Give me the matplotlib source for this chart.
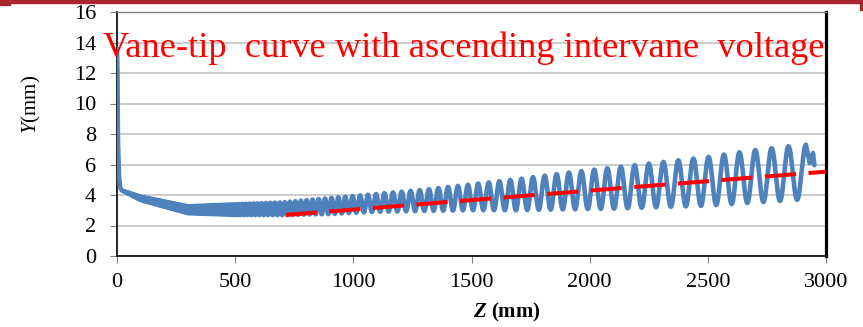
import numpy as np
import matplotlib.pyplot as plt
from matplotlib.patches import Rectangle

plt.rcParams['mathtext.fontset'] = 'custom'
plt.rcParams['mathtext.rm'] = 'Liberation Serif'
plt.rcParams['mathtext.it'] = 'Liberation Serif:italic'
plt.rcParams['mathtext.bf'] = 'Liberation Serif:bold'
plt.rcParams['mathtext.bfit'] = 'Liberation Serif:italic:bold'

# radial matching section at the entrance
z_entry = [0, 2, 4, 8, 13]
y_entry = [13.6, 12.0, 7.6, 5.4, 4.5]

# envelope of the modulated vane tip (peaks / troughs)
z_env = [20, 100, 300, 500, 700, 900, 1100, 1300, 1500, 1700, 1900, 2100, 2300, 2500, 2700, 2900]
upper_env = [4.3, 3.9, 3.27, 3.4, 3.52, 3.8, 4.07, 4.35, 4.7, 5.05, 5.45, 5.8, 6.15, 6.5, 6.95, 7.3]
lower_env = [4.3, 3.66, 2.8, 2.68, 2.68, 2.75, 2.9, 2.95, 3.0, 3.0, 3.05, 3.1, 3.2, 3.3, 3.5, 3.7]

# modulation period (two cells) along z
z_per = [20, 300, 500, 700, 1000, 1100, 1500, 2000, 2350, 2650, 2850, 2950]
per = [8, 10, 14, 21, 31, 35, 43, 54, 63, 66, 72, 76]

z_last_peak = 2915
z_exit = [2931, 2945, 2951]
y_exit = [6.1, 6.75, 5.95]

# red dashed guide line
z_guide = [714, 3000]
y_guide = [2.69, 5.53]

# build vane tip: alternate peak/trough cells, going back from the last peak
ext_z, ext_y = [], []
z = z_last_peak
top = True
while z > z_env[0]:
    ext_z.append(z)
    ext_y.append(np.interp(z, z_env, upper_env if top else lower_env))
    z -= np.interp(z, z_per, per) / 2
    top = not top
ext_z.append(z_env[0])
ext_y.append(upper_env[0])
ext_z, ext_y = ext_z[::-1], ext_y[::-1]

zz, yy = list(z_entry), list(y_entry)
t = np.linspace(0, 1, 13)[:-1]
for i in range(len(ext_z) - 1):
    zz += list(ext_z[i] + (ext_z[i + 1] - ext_z[i]) * t)
    yy += list(ext_y[i] + (ext_y[i + 1] - ext_y[i]) * (1 - np.cos(np.pi * t)) / 2)
zz.append(ext_z[-1])
yy.append(ext_y[-1])
zz += z_exit
yy += y_exit

serif = 'Liberation Serif'
fig = plt.figure(figsize=(8.63, 3.27), dpi=100)
ax = fig.add_axes([117 / 863, 1 - 256 / 327, (826 - 117) / 863, (256 - 12) / 327])

ax.plot(zz, yy, color='#4F81BD', lw=3.3, solid_joinstyle='round', solid_capstyle='round', zorder=3)
ax.plot(z_guide, y_guide, color='red', lw=2.9, dashes=(7.75, 3.1), zorder=4)

ax.set_xlim(0, 3000)
ax.set_ylim(0, 16)
ax.set_xticks(range(0, 3001, 500))
ax.set_yticks(range(0, 17, 2))
ax.grid(axis='y', color='#BFBFBF', lw=1.1)
ax.set_axisbelow(True)
ax.tick_params(axis='both', direction='out', length=5, width=0.8, color='#808080',
               labelsize=16, pad=7)
for lab in ax.get_xticklabels() + ax.get_yticklabels():
    lab.set_fontfamily(serif)
ax.tick_params(axis='y', pad=10)

for s in ['left', 'bottom']:
    ax.spines[s].set_color('black')
    ax.spines[s].set_linewidth(1.2)
ax.spines['top'].set_color('#7F7F7F')
ax.spines['top'].set_linewidth(1.0)
ax.spines['right'].set_color('black')
ax.spines['right'].set_linewidth(2.3)

fig.text(31 / 863, 1 - 104 / 327, r'$\mathit{Y}$(mm)', rotation=90, ha='center', va='center',
         fontsize=15, family=serif)
fig.text(507 / 863, 1 - 312 / 327, r'$\mathbfit{Z}$ (mm)', ha='center', va='center',
         fontsize=15, family=serif, fontweight='bold')

fig.text(103 / 863, 1 - 57 / 327, 'Vane-tip  curve with ascending intervane  voltage',
         color='red', fontsize=26.2, family=serif, va='baseline')

# slide header bar
fig.patches.append(Rectangle((0, 1 - 3 / 327), 1, 3 / 327, transform=fig.transFigure,
                             color='#A8262D', zorder=10))
fig.patches.append(Rectangle((0, 1 - 5 / 327), 10 / 863, 5 / 327, transform=fig.transFigure,
                             color='#A8262D', zorder=10))
fig.patches.append(Rectangle((860 / 863, 1 - 10 / 327), 3 / 863, 10 / 327, transform=fig.transFigure,
                             color='#A8262D', zorder=10))

fig.savefig('out.png', dpi=100)
